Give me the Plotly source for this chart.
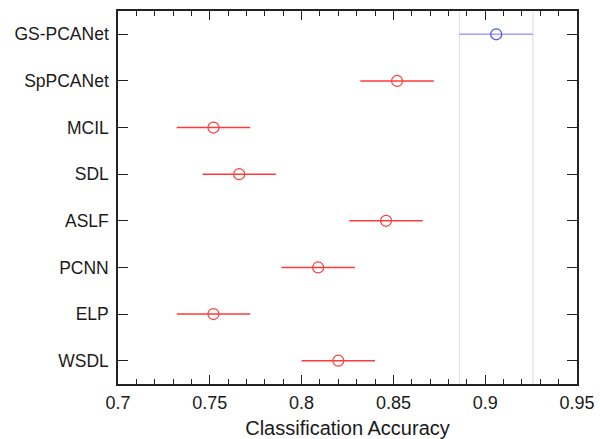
import plotly.graph_objects as go

methods = ["GS-PCANet", "SpPCANet", "MCIL", "SDL", "ASLF", "PCNN", "ELP", "WSDL"]
means = [0.906, 0.852, 0.752, 0.766, 0.846, 0.809, 0.752, 0.820]
half_width = [0.020, 0.020, 0.020, 0.020, 0.020, 0.020, 0.020, 0.020]
highlight = "GS-PCANet"
x_ticks = [0.7, 0.75, 0.8, 0.85, 0.9, 0.95]
x_tick_text = ["0.7", "0.75", "0.8", "0.85", "0.9", "0.95"]

fig = go.Figure()

for m, v, h in zip(methods, means, half_width):
    is_hi = m == highlight
    line_col = "#a0a0ff" if is_hi else "#ff3a3a"
    mk_col = "#4a4aff" if is_hi else "#ff3a3a"
    fig.add_trace(go.Scatter(
        x=[v - h, v + h], y=[m, m], mode="lines",
        line=dict(color=line_col, width=1.5), showlegend=False, hoverinfo="skip"))
    fig.add_trace(go.Scatter(
        x=[v], y=[m], mode="markers",
        marker=dict(symbol="circle-open", size=11, color=mk_col, line=dict(width=1.2)),
        showlegend=False))

hi_idx = methods.index(highlight)
for xv in (means[hi_idx] - half_width[hi_idx], means[hi_idx] + half_width[hi_idx]):
    fig.add_shape(type="line", x0=xv, x1=xv, y0=0, y1=1, xref="x", yref="paper",
                  line=dict(color="#e3e3e3", width=1.2), layer="below")

fig.update_layout(
    width=600, height=439,
    margin=dict(l=118, r=23, t=11, b=55),
    plot_bgcolor="white", paper_bgcolor="white",
    font=dict(family="Liberation Sans, Arial, sans-serif", size=17, color="#1a1a1a"),
    xaxis=dict(
        range=[0.7, 0.95], tickvals=x_ticks, ticktext=x_tick_text,
        showgrid=False, zeroline=False, automargin=False,
        showline=True, linecolor="#222", linewidth=1.5, mirror="ticks",
        ticks="inside", ticklen=9, tickwidth=1.3, tickcolor="#222",
        minor=dict(dtick=0.01, ticks="inside", ticklen=5, tickwidth=1.1, tickcolor="#222", showgrid=False),
        title=dict(text="Classification Accuracy", font=dict(size=20), standoff=10),
        tickfont=dict(size=18), ticklabelstandoff=2,
    ),
    yaxis=dict(
        categoryorder="array", categoryarray=methods[::-1],
        range=[-0.5, len(methods) - 0.5],
        showgrid=False, zeroline=False, automargin=False,
        showline=True, linecolor="#222", linewidth=1.5, mirror="ticks",
        ticks="inside", ticklen=10, tickwidth=1.3, tickcolor="#222",
        tickfont=dict(size=17.5), ticklabelstandoff=4,
    ),
)

fig.write_html(
    "out.html",
    config={"displayModeBar": False},
    post_script="document.body.style.margin='0';document.body.style.overflow='hidden';",
)
